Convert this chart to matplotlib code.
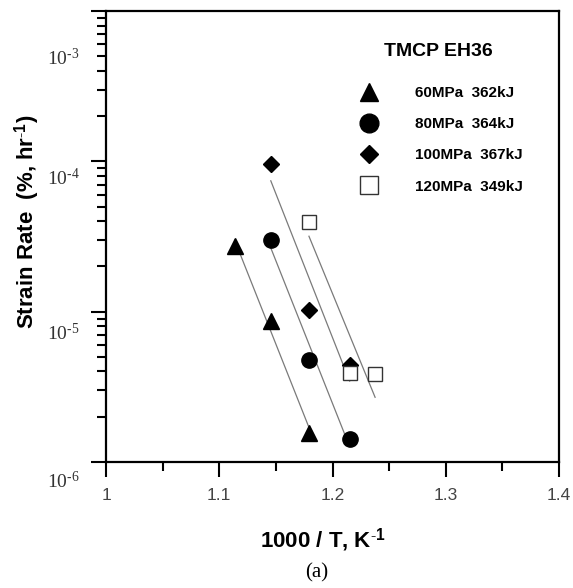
import numpy
import matplotlib
matplotlib.use("Agg")
import matplotlib.pyplot as plt
from matplotlib.lines import Line2D
from matplotlib.transforms import ScaledTranslation

### Data (1000/T in K^-1, strain rate in %/hr)
x_60 = [1.1136, 1.1455, 1.1792]
y_60 = [2.75e-5, 8.7e-6, 1.57e-6]
x_80 = [1.1455, 1.1792, 1.2151]
y_80 = [3.0e-5, 4.8e-6, 1.42e-6]
x_100 = [1.1455, 1.1792, 1.2151]
y_100 = [9.6e-5, 1.02e-5, 4.4e-6]
x_120 = [1.1792, 1.2151, 1.2376]
y_120 = [3.97e-5, 3.9e-6, 3.85e-6]

labels = ["60MPa  362kJ", "80MPa  364kJ", "100MPa  367kJ", "120MPa  349kJ"]
markers = ["^", "o", "D", "s"]
legend_title = "TMCP EH36"

xticks = [1.0, 1.1, 1.2, 1.3, 1.4]
xtick_labels = ["1", "1.1", "1.2", "1.3", "1.4"]
yticks = [1e-6, 1e-5, 1e-4, 1e-3]
ytick_labels = [r"10$^{\text{-6}}$", r"10$^{\text{-5}}$", r"10$^{\text{-4}}$", r"10$^{\text{-3}}$"]

### matplotlib settings
matplotlib.rc("font", family="Liberation Sans")
matplotlib.rc("mathtext", fontset="custom", rm="Liberation Serif", sf="Liberation Serif",
              it="Liberation Serif:italic", bf="Liberation Sans:bold")

fig = plt.figure(figsize=(5.73, 5.88), dpi=100)
ax = fig.add_axes([0.185, 0.2143, 0.7906, 0.767])

series = [(x_60, y_60), (x_80, y_80), (x_100, y_100), (x_120, y_120)]
sizes = [11, 11, 7.8, 10.5]

### Fit lines (Arrhenius fit in log space over each data range)
for (xs, ys) in series:
    xs = numpy.array(xs)
    coef = numpy.polyfit(xs, numpy.log10(ys), 1)
    xfit = numpy.array([xs.min(), xs.max()])
    ax.plot(xfit, 10 ** numpy.polyval(coef, xfit), color="#7a7a7a", linewidth=0.9, zorder=1)

### Data points
for (xs, ys), m, s in zip(series, markers, sizes):
    if m == "s":
        ax.plot(xs, ys, linestyle="none", marker=m, markersize=s, markerfacecolor="white",
                markeredgecolor="#333333", markeredgewidth=1.0, zorder=3)
    else:
        ax.plot(xs, ys, linestyle="none", marker=m, markersize=s, color="black", zorder=3)

### Axes
ax.set_yscale("log")
ax.set_xlim(1.0, 1.4)
ax.set_ylim(1e-6, 1e-3)
ax.set_xticks(xticks)
ax.set_xticklabels(xtick_labels, fontsize=12.5, color="#444444")
ax.set_xticks([1.05, 1.15, 1.25, 1.35], minor=True)
ax.set_yticks(yticks)
ax.set_yticklabels(ytick_labels, fontsize=14, color="#333333", family="Liberation Serif")
ax.yaxis.set_minor_locator(matplotlib.ticker.LogLocator(base=10, subs=numpy.arange(2, 10)))
ax.yaxis.set_minor_formatter(matplotlib.ticker.NullFormatter())

ax.tick_params(which="major", direction="out", length=11, width=1.5)
ax.tick_params(which="minor", direction="out", length=6.5, width=1.5)
ax.tick_params(axis="x", which="major", pad=8)
ax.tick_params(axis="y", which="major", pad=8)
for sp in ax.spines.values():
    sp.set_linewidth(1.6)

### y tick labels sit a little below their ticks in the original
offsets = [18, 20, 15, 46]
for lab, off in zip(ax.get_yticklabels(), offsets):
    lab.set_transform(lab.get_transform() + ScaledTranslation(0, -off / 100.0, fig.dpi_scale_trans))

ax.set_xlabel(r"1000 / T, K$^{\text{-}\mathbf{1}}$", fontsize=16, fontweight="bold")
ax.set_ylabel(r"Strain Rate  (%, hr$^{\text{-}\mathbf{1}}$)", fontsize=16, fontweight="bold")
ax.yaxis.set_label_coords(-0.141, 0.532)
ax.xaxis.set_label_coords(0.478, -0.143)

### Legend
handles = []
for m in markers:
    if m == "s":
        handles.append(Line2D([], [], linestyle="none", marker=m, markersize=13.5, markerfacecolor="white",
                              markeredgecolor="#333333", markeredgewidth=1.0))
    elif m == "D":
        handles.append(Line2D([], [], linestyle="none", marker=m, markersize=9.5, color="black"))
    else:
        handles.append(Line2D([], [], linestyle="none", marker=m, markersize=13.5, color="black"))
leg = ax.legend(handles, labels, title=legend_title, loc="upper left", bbox_to_anchor=(0.547, 0.93),
                frameon=False, borderpad=0, borderaxespad=0, handlelength=2.0, handletextpad=2.0,
                labelspacing=1.13, prop={"size": 11, "weight": "bold"},
                title_fontproperties={"size": 14, "weight": "bold"})
leg._legend_box.sep = 19

fig.text(0.553, 0.025, "(a)", fontsize=15, family="Liberation Serif", ha="center", va="center")

plt.savefig("out.png", dpi=100)
